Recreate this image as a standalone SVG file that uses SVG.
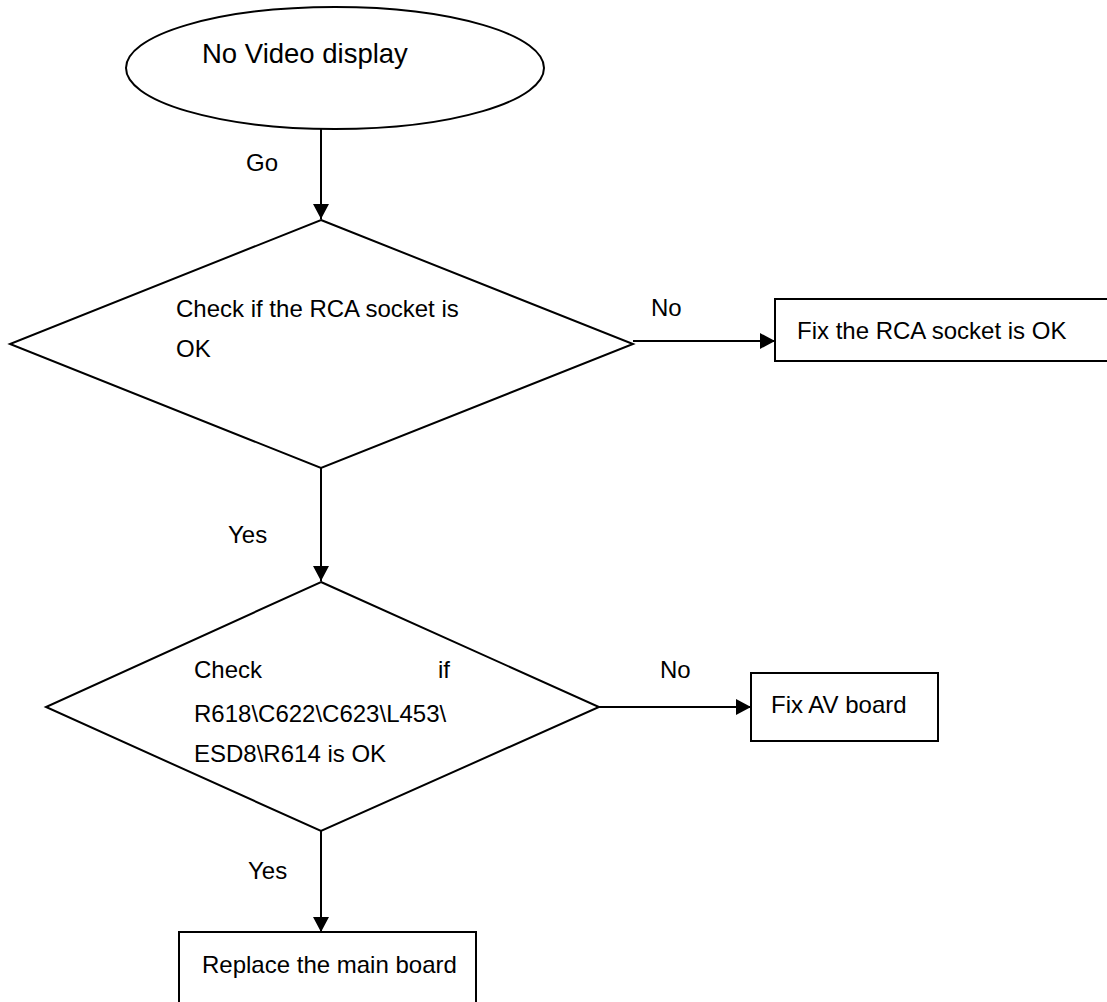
<svg xmlns="http://www.w3.org/2000/svg" width="1107" height="1002" viewBox="0 0 1107 1002">
<style>
.s{fill:#fff;stroke:#000;stroke-width:2}
.t{font-family:"Liberation Sans",Arial,sans-serif;font-size:24px;fill:#000}
.big{font-size:27.5px}
.c{fill:none;stroke:#000;stroke-width:2}
</style>
<defs>
<marker id="ah" markerUnits="userSpaceOnUse" markerWidth="16" markerHeight="16" viewBox="0 0 16 16" refX="15" refY="8" orient="auto">
<path d="M0,0 L15,8 L0,16 Z" fill="#000"/>
</marker>
</defs>
<rect width="1107" height="1002" fill="#fff"/>
<g id="connectors">
<line class="c" x1="321" y1="128" x2="321" y2="219" marker-end="url(#ah)"/>
<line class="c" x1="321" y1="468" x2="321" y2="581" marker-end="url(#ah)"/>
<line class="c" x1="633" y1="341" x2="775" y2="341" marker-end="url(#ah)"/>
<line class="c" x1="599" y1="707" x2="751" y2="707" marker-end="url(#ah)"/>
<line class="c" x1="321" y1="831" x2="321" y2="932" marker-end="url(#ah)"/>
<text class="t" x="246" y="171">Go</text>
<text class="t" x="228" y="543">Yes</text>
<text class="t" x="651" y="316">No</text>
<text class="t" x="660" y="678">No</text>
<text class="t" x="248" y="879">Yes</text>
</g>
<g id="start">
<ellipse class="s" cx="335" cy="68" rx="209" ry="61"/>
<text class="t big" x="202" y="63">No Video display</text>
</g>
<g id="check-rca">
<polygon class="s" points="321,220 633,344 321,468 10,344"/>
<text class="t" x="176" y="317">Check if the RCA socket is</text>
<text class="t" x="176" y="357">OK</text>
</g>
<g id="fix-rca">
<rect class="s" x="775" y="299" width="340" height="62"/>
<text class="t" x="797" y="339">Fix the RCA socket is OK</text>
</g>
<g id="check-parts">
<polygon class="s" points="321,582 599,707 321,831 46,707"/>
<text class="t" x="194" y="678">Check</text>
<text class="t" x="438" y="678">if</text>
<text class="t" x="194" y="722">R618\C622\C623\L453\</text>
<text class="t" x="194" y="762">ESD8\R614 is OK</text>
</g>
<g id="fix-av">
<rect class="s" x="751" y="673" width="187" height="68"/>
<text class="t" x="771" y="713">Fix AV board</text>
</g>
<g id="replace-main">
<rect class="s" x="179" y="932" width="297" height="80"/>
<text class="t" x="202" y="973">Replace the main board</text>
</g>
</svg>
